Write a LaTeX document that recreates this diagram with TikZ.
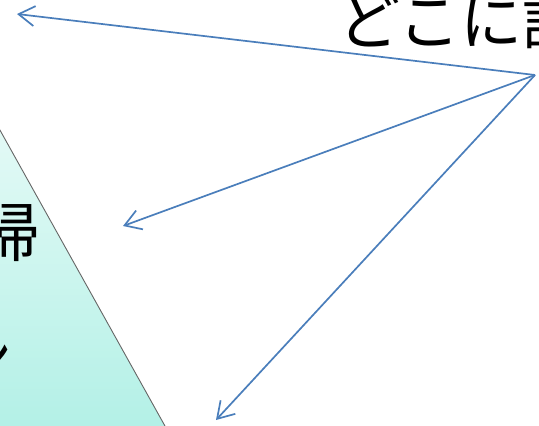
\documentclass[tikz,border=0pt]{standalone}
\usepackage{fontspec}
\newfontfamily\jp{Noto Sans CJK JP}
\usetikzlibrary{arrows.meta}
\definecolor{arrowblue}{RGB}{74,126,187}
\definecolor{tritop}{RGB}{228,250,246}
\definecolor{tribot}{RGB}{178,240,230}
\begin{document}
\begin{tikzpicture}[x=1pt,y=-1pt,
  pointer/.style={draw=arrowblue,line width=1.7pt,-{Straight Barb[length=16pt,width=20pt,line width=1.7pt]}},
  bigtext/.style={font=\jp\fontsize{62pt}{62pt}\selectfont,inner sep=0pt,anchor=base west}]
\useasboundingbox (0,0) rectangle (539,426);
\clip (0,0) rectangle (539,426);
% triangle at the left, cut by the frame
\shade[top color=tritop,bottom color=tribot,draw=black!60,line width=0.9pt]
  (-4,123) -- (170,435) -- (-4,435) -- cycle;
\node[bigtext,font=\jp\fontsize{64pt}{64pt}\selectfont] (kaeru) at (-24,256) {帰};
\node[bigtext,font=\jp\fontsize{60pt}{60pt}\selectfont] (nn) at (-48,379) {ン};
% heading and the three pointers
\node[bigtext] (title) at (338,44) {どこに記};
\coordinate (src) at (535,75);
\coordinate (tgtA) at (17,14);
\coordinate (tgtB) at (123,226);
\coordinate (tgtC) at (216,420);
\draw[pointer] (src) -- (tgtA);
\draw[pointer] (src) -- (tgtB);
\draw[pointer] (src) -- (tgtC);
\end{tikzpicture}
\end{document}
